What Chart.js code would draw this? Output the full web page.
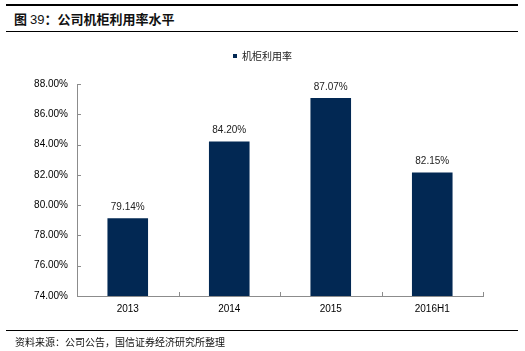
<!DOCTYPE html>
<html>
<head>
<meta charset="utf-8">
<script src="https://cdn.jsdelivr.net/npm/chart.js@4.4.1/dist/chart.umd.min.js"></script>
<style>
    html, body { margin: 0; padding: 0; background: #fff; }
    #wrap { position: relative; width: 525px; height: 351px; overflow: hidden; }
    #chart { position: absolute; left: 0; top: 0; }
    .rule { position: absolute; left: 6px; width: 512px; background: #000; }
    .title { position: absolute; left: 14px; top: 10px; font: bold 13px "Noto Sans CJK SC", sans-serif; color: #111; line-height: 18px; }
    .title .num { font-family: "Liberation Sans", Arial, sans-serif; font-weight: normal; }
    .foot { position: absolute; left: 15px; top: 335px; font: 10px "Noto Sans CJK SC", sans-serif; color: #111; line-height: 14px; }
</style>
</head>
<body>
<div id="wrap">
    <div class="rule" style="top:4px;height:2px"></div>
    <div class="title">图 <span class="num">39</span>：公司机柜利用率水平</div>
    <div class="rule" style="top:31px;height:1px"></div>
    <canvas id="chart" width="525" height="351"></canvas>
    <div class="rule" style="top:330px;height:1px"></div>
    <div class="foot">资料来源：公司公告，国信证券经济研究所整理</div>
</div>
<script>
// datos del gráfico
const CATEGORIAS = ['2013', '2014', '2015', '2016H1'];
const UTILIZACION = [79.14, 84.20, 87.07, 82.15];
const SERIE = '机柜利用率';
const Y_MIN = 74, Y_MAX = 88, Y_STEP = 2;

const BAR_COLOR = '#022853';
const AXIS_COLOR = '#8c8c8c';
const LATIN = '"Liberation Sans", Arial, sans-serif';

// etiquetas encima de cada barra
const valueLabels = {
    id: 'valueLabels',
    afterDatasetsDraw(chart) {
        const ctx = chart.ctx;
        const meta = chart.getDatasetMeta(0);
        ctx.save();
        ctx.font = '10px ' + LATIN;
        ctx.fillStyle = '#222';
        ctx.textAlign = 'center';
        ctx.textBaseline = 'middle';
        meta.data.forEach((bar, i) => {
            ctx.fillText(UTILIZACION[i].toFixed(2) + '%', bar.x, bar.y - 11);
        });
        ctx.restore();
    }
};

// marcas de eje hacia dentro (estilo Excel)
const insideTicks = {
    id: 'insideTicks',
    afterDraw(chart) {
        const ctx = chart.ctx;
        const x = chart.scales.x, y = chart.scales.y;
        ctx.save();
        ctx.strokeStyle = AXIS_COLOR;
        ctx.lineWidth = 1;
        ctx.beginPath();
        y.ticks.forEach(t => {
            const py = Math.round(y.getPixelForValue(t.value)) + 0.5;
            ctx.moveTo(x.left, py);
            ctx.lineTo(x.left + 4, py);
        });
        const w = x.width / CATEGORIAS.length;
        for (let i = 1; i <= CATEGORIAS.length; i++) {
            const px = Math.round(x.left + i * w) + 0.5;
            ctx.moveTo(px, y.bottom);
            ctx.lineTo(px, y.bottom - 4);
        }
        ctx.stroke();
        ctx.restore();
    }
};

new Chart(document.getElementById('chart'), {
    type: 'bar',
    data: {
        labels: CATEGORIAS,
        datasets: [{
            label: SERIE,
            data: UTILIZACION,
            backgroundColor: BAR_COLOR,
            categoryPercentage: 1,
            barPercentage: 0.4
        }]
    },
    options: {
        responsive: false,
        animation: false,
        events: [],
        layout: { padding: { left: 0, right: 0, top: 30, bottom: 0 } },
        plugins: {
            tooltip: { enabled: false },
            legend: {
                position: 'top',
                labels: {
                    boxWidth: 4,
                    boxHeight: 4,
                    padding: 21,
                    color: '#222',
                    font: { size: 10, family: '"Noto Sans CJK SC", sans-serif' }
                }
            }
        },
        scales: {
            x: {
                grid: { display: false, drawTicks: false },
                border: { display: true, color: AXIS_COLOR },
                ticks: { color: '#000', padding: 7, font: { size: 10, family: LATIN } },
                afterFit: s => { s.height = 55; }
            },
            // eje vacío arriba: separa la leyenda del área del gráfico
            arriba: {
                type: 'category',
                position: 'top',
                grid: { display: false, drawTicks: false },
                border: { display: false },
                ticks: { display: false },
                afterFit: s => { s.height = 13; }
            },
            y: {
                min: Y_MIN,
                max: Y_MAX,
                grid: { display: false, drawTicks: false },
                border: { display: true, color: AXIS_COLOR },
                ticks: {
                    stepSize: Y_STEP,
                    color: '#000',
                    padding: 9,
                    font: { size: 10, family: LATIN },
                    callback: v => v.toFixed(2) + '%'
                },
                afterFit: s => { s.width = 77; }
            },
            // eje vacío a la derecha: solo reserva el margen
            derecha: {
                position: 'right',
                grid: { display: false, drawTicks: false },
                border: { display: false },
                ticks: { display: false },
                afterFit: s => { s.width = 42; }
            }
        }
    },
    plugins: [valueLabels, insideTicks]
});
</script>
</body>
</html>
